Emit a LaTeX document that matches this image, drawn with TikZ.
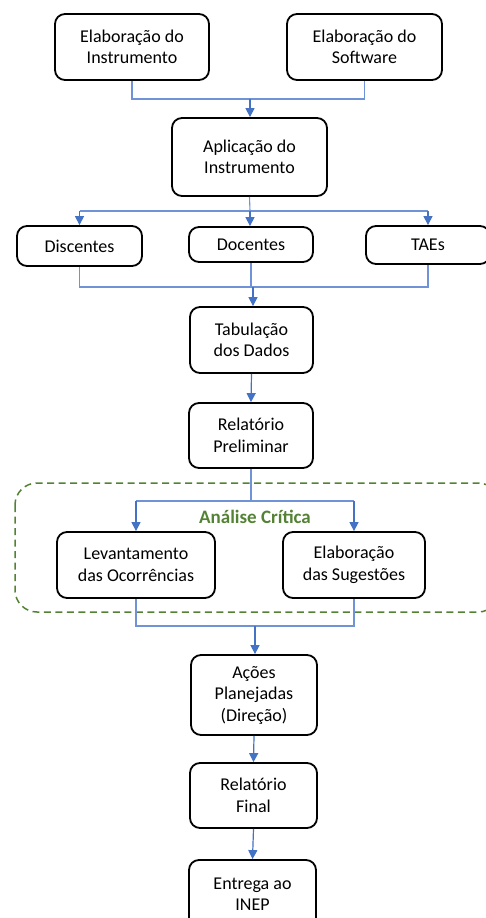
\documentclass[tikz,border=0pt]{standalone}
\usepackage{fontspec}
\setmainfont{Carlito}
\usetikzlibrary{arrows.meta}
\definecolor{connblue}{HTML}{4472C4}
\definecolor{lineblue}{HTML}{6F93D6}
\definecolor{grn}{HTML}{548235}
\tikzset{
  box/.style={draw=black, line width=1.8pt, rounded corners=10pt, align=center,
    font=\fontsize{18}{21.5}\selectfont, inner sep=0pt},
  link/.style={draw=lineblue, line width=1.1pt},
  arr/.style={draw=connblue, line width=1.2pt, -{Triangle[width=9pt,length=9pt]}},
  group/.style={draw=grn, line width=1.5pt, dash pattern=on 7pt off 4.5pt, rounded corners=22pt},
}
\begin{document}
\begin{tikzpicture}[x=1pt,y=-1pt]
\useasboundingbox (0,0) rectangle (486,918);
% group
\draw[group] (15,483) rectangle (500,612);
\node[font=\fontsize{19}{22}\selectfont\bfseries, text=grn] (title) at (255,517) {Análise Crítica};
% boxes
\node[box, minimum width=154pt, minimum height=66pt] (ei) at (132,47) {Elaboração do\\Instrumento};
\node[box, minimum width=155pt, minimum height=66pt] (es) at (364.5,47) {Elaboração do\\Software};
\node[box, minimum width=155pt, minimum height=78pt] (ap) at (249.5,157) {Aplicação do\\Instrumento};
\node[box, minimum width=125pt, minimum height=40pt] (di) at (79.5,246) {Discentes};
\node[box, minimum width=124pt, minimum height=35pt] (do) at (251,244.5) {Docentes};
\node[box, minimum width=124pt, minimum height=38pt] (ta) at (428,245) {TAEs};
\node[box, minimum width=123pt, minimum height=66pt] (tb) at (251.5,340) {Tabulação\\dos Dados};
\node[box, minimum width=124pt, minimum height=65pt] (rp) at (251,435.5) {Relatório\\Preliminar};
\node[box, minimum width=158pt, minimum height=66pt] (lo) at (136,565) {Levantamento\\das Ocorrências};
\node[box, minimum width=142pt, minimum height=66pt] (su) at (354,565) {Elaboração\\das Sugestões};
\node[box, minimum width=126pt, minimum height=80pt] (ac) at (254,695) {Ações\\Planejadas\\(Direção)};
\node[box, minimum width=127pt, minimum height=65pt] (rf) at (253.5,795.5) {Relatório\\Final};
\node[box, minimum width=127pt, minimum height=68pt] (en) at (252.5,894) {Entrega ao\\INEP};
% joins
\coordinate (j1) at (250,99);
\coordinate (j2) at (250,211);
\coordinate (j3) at (253,287);
\coordinate (j4) at (251,501);
\coordinate (j5) at (255,626);
% connectors
\draw[link] (ei.south) |- (j1) -| (es.south);
\draw[arr] (j1) -- (j1 |- ap.north);
\draw[link] (ap.south) -- (j2);
\draw[link] (j2 -| di.north) -- (j2 -| ta.north);
\draw[arr] (j2 -| di.north) -- (di.north);
\draw[arr] (j2) -- (j2 |- do.north);
\draw[arr] (j2 -| ta.north) -- (ta.north);
\draw[link] (di.south) |- (j3) -| (ta.south);
\draw[link] (do.south) -- (do.south |- j3);
\draw[arr] (j3) -- (j3 |- tb.north);
\draw[arr] (tb.south) -- (rp.north);
\draw[link] (rp.south) -- (j4);
\draw[link] (j4 -| lo.north) -- (j4 -| su.north);
\draw[arr] (j4 -| lo.north) -- (lo.north);
\draw[arr] (j4 -| su.north) -- (su.north);
\draw[link] (lo.south) |- (j5) -| (su.south);
\draw[arr] (j5) -- (j5 |- ac.north);
\draw[arr] (ac.south) -- (rf.north);
\draw[arr] (rf.south) -- (en.north);
\end{tikzpicture}
\end{document}
